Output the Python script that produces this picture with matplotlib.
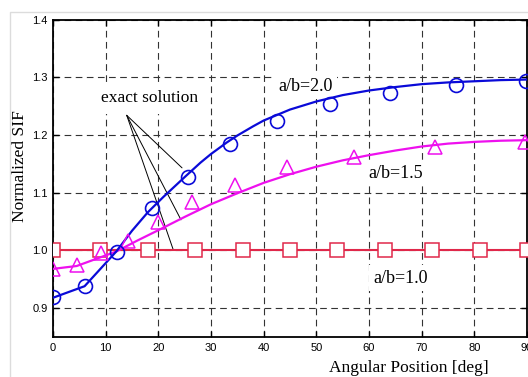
import matplotlib.pyplot as plt
from matplotlib.patches import Rectangle

# exact solution curves
ang_20 = [0, 6, 12, 15, 18, 21, 25, 28, 30, 33, 35, 38, 40, 45, 50, 55, 60, 65, 70, 75, 80, 85, 90]
sif_20 = [0.918, 0.938, 0.998, 1.034, 1.066, 1.093, 1.127, 1.152, 1.167, 1.187, 1.199,
          1.215, 1.225, 1.244, 1.258, 1.269, 1.277, 1.283, 1.288, 1.291, 1.293, 1.295, 1.296]
ang_15 = [0, 4.5, 9, 12, 16, 20, 25, 30, 35, 40, 45, 50, 55, 60, 65, 70, 75, 80, 85, 90]
sif_15 = [0.968, 0.973, 0.988, 0.998, 1.017, 1.035, 1.058, 1.080, 1.099, 1.117,
          1.132, 1.145, 1.156, 1.165, 1.173, 1.180, 1.185, 1.188, 1.190, 1.191]

# computed points
pt_ang_20 = [0, 6.1, 12.2, 18.8, 25.6, 33.6, 42.5, 52.6, 63.9, 76.5, 89.8]
pt_sif_20 = [0.919, 0.938, 0.998, 1.074, 1.128, 1.184, 1.224, 1.253, 1.272, 1.287, 1.294]
pt_ang_15 = [0, 4.5, 9.2, 14.3, 19.9, 26.4, 34.5, 44.4, 57.1, 72.5, 89.6]
pt_sif_15 = [0.968, 0.974, 0.996, 1.017, 1.050, 1.083, 1.113, 1.145, 1.162, 1.179, 1.188]
ang_10 = [0, 9, 18, 27, 36, 45, 54, 63, 72, 81, 90]
sif_10 = [1.0] * 11

# leader lines for "exact solution"
lead_start = (14.0, 1.234)
lead_ends = [(24.5, 1.143), (24.3, 1.053), (22.8, 1.002)]

blue = '#0a0ad8'
mag = '#ee10ee'
red = '#e0284a'

plt.rcParams['font.family'] = ['Liberation Serif', 'DejaVu Serif']

fig = plt.figure(figsize=(5.28, 3.77), dpi=100)
ax = fig.add_axes([53/528, 1 - 337/377, 474/528, 317.5/377])

fig.add_artist(Rectangle((10/528, -0.1), 1.2, (377 - 12)/377 + 0.1,
                         transform=fig.transFigure, fill=False,
                         edgecolor='#dcdcdc', lw=1))

ax.plot(ang_10, sif_10, color=red, lw=1.5, marker='s', markersize=10,
        markerfacecolor='white', markeredgecolor=red, markeredgewidth=1.1, zorder=3)
ax.plot(ang_15, sif_15, color=mag, lw=1.6, zorder=3)
ax.plot(pt_ang_15, pt_sif_15, ls='none', marker='^', markersize=10,
        markerfacecolor='none', markeredgecolor=mag, markeredgewidth=1.1, zorder=4)
ax.plot(ang_20, sif_20, color=blue, lw=1.6, zorder=3)
ax.plot(pt_ang_20, pt_sif_20, ls='none', marker='o', markersize=10,
        markerfacecolor='none', markeredgecolor=blue, markeredgewidth=1.2, zorder=4)

box = dict(facecolor='white', edgecolor='none', pad=3)
ax.text(18.4, 1.264, 'exact solution', fontsize=12.5, ha='center', va='center',
        bbox=dict(facecolor='white', edgecolor='none', pad=6), zorder=1.5)
for end in lead_ends:
    ax.annotate('', xy=end, xytext=lead_start,
                arrowprops=dict(arrowstyle='-', color='black', lw=0.7,
                                shrinkA=0, shrinkB=0), zorder=2)
ax.text(48.0, 1.284, 'a/b=2.0', fontsize=13, ha='center', va='center', bbox=box, zorder=1.5)
ax.text(65.1, 1.134, 'a/b=1.5', fontsize=13, ha='center', va='center', bbox=box, zorder=1.5)
ax.text(66.0, 0.952, 'a/b=1.0', fontsize=13, ha='center', va='center', bbox=box, zorder=1.5)

ax.set_xlim(0, 90)
ax.set_ylim(0.85, 1.4)
ax.set_xticks(range(0, 91, 10))
ax.set_yticks([0.9, 1.0, 1.1, 1.2, 1.3, 1.4])
ax.set_yticklabels(['0.9', '1.0', '1.1', '1.2', '1.3', '1.4'])
ax.set_axisbelow(True)
ax.grid(True, color='#333333', lw=0.8, linestyle=(0, (6, 4)))

ax.tick_params(direction='in', length=4, width=1, top=True, right=True,
               labelsize=8, pad=4)
for lab in ax.get_xticklabels() + ax.get_yticklabels():
    lab.set_family(['Liberation Sans', 'DejaVu Sans'])
for s in ax.spines.values():
    s.set_linewidth(1.3)

ax.set_xlabel('Angular Position [deg]', fontsize=12.5)
ax.xaxis.set_label_coords(0.751, -0.072)
ax.set_ylabel('Normalized SIF', fontsize=12.5)
ax.yaxis.set_label_coords(-0.053, 0.539)

fig.savefig('out.png', dpi=100)
